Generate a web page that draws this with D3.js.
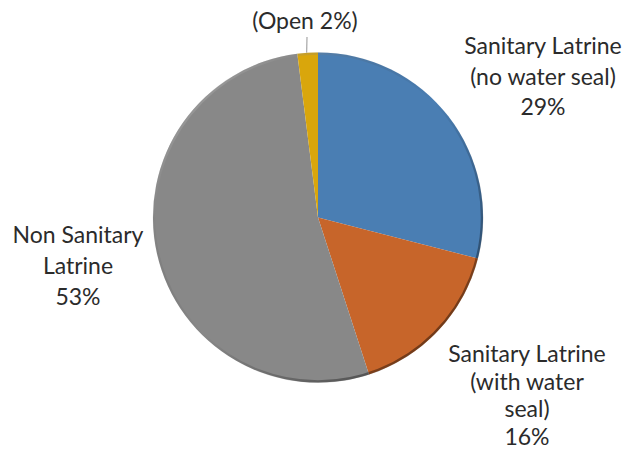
<!DOCTYPE html>
<html>
<head>
<meta charset="utf-8">
<script src="https://cdn.jsdelivr.net/npm/d3@7"></script>
<style>
  body { margin: 0; background: #fff; }
  text { font-family: Lato, "Open Sans", sans-serif; fill: #2b2b2b; }
</style>
</head>
<body>
<svg id="chart"></svg>
<script>
// slices, clockwise from 12 o'clock
const categories = ["Sanitary Latrine (no water seal)", "Sanitary Latrine (with water seal)", "Non Sanitary Latrine", "Open"];
const values = [29, 16, 53, 2];
const colors = ["#4a7eb3", "#c7652a", "#888888", "#d9a60c"];
const labelLines = [
    ["Sanitary Latrine", "(no water seal)", "29%"],
    ["Sanitary Latrine", "(with water", "seal)", "16%"],
    ["Non Sanitary", "Latrine", "53%"],
    ["(Open 2%)"]
];

const width = 626, height = 449;
const cx = 318, cy = 217.5, r = 165;

const svg = d3.select("#chart")
    .attr("width", width)
    .attr("height", height);

const defs = svg.append("defs");
const rim = defs.append("linearGradient")
    .attr("id", "rim")
    .attr("x1", "0%").attr("y1", "0%")
    .attr("x2", "100%").attr("y2", "100%");
rim.append("stop").attr("offset", "0%").attr("stop-color", "#ffffff").attr("stop-opacity", 0.45);
rim.append("stop").attr("offset", "50%").attr("stop-color", "#000000").attr("stop-opacity", 0.0);
rim.append("stop").attr("offset", "100%").attr("stop-color", "#000000").attr("stop-opacity", 0.6);

const pie = d3.pie().sort(null).value(d => d)(values);
const arc = d3.arc().innerRadius(0).outerRadius(r);

const g = svg.append("g").attr("transform", `translate(${cx},${cy})`);

g.selectAll("path.slice")
    .data(pie)
    .join("path")
    .attr("class", "slice")
    .attr("d", arc)
    .attr("fill", (d, i) => colors[i]);

// soft bevel round the edge
g.append("circle")
    .attr("r", r - 1)
    .attr("fill", "none")
    .attr("stroke", "url(#rim)")
    .attr("stroke-width", 2.5);

// label anchors (centre x, first baseline)
const labelPos = [
    {x: 543, y: 54, dy: 30.5},
    {x: 527, y: 362, dy: 27.5},
    {x: 78, y: 243, dy: 31},
    {x: 305, y: 29, dy: 30}
];

labelLines.forEach((lines, i) => {
    const p = labelPos[i];
    const t = svg.append("text")
        .attr("text-anchor", "middle")
        .style("font-size", "23px");
    lines.forEach((s, j) => {
        t.append("tspan")
            .attr("x", p.x)
            .attr("y", p.y + j * p.dy)
            .text(s);
    });
});

// leader for the small slice
const openMid = (pie[3].startAngle + pie[3].endAngle) / 2;
svg.append("line")
    .attr("x1", 307).attr("y1", 37)
    .attr("x2", cx + r * Math.sin(openMid) - 1).attr("y2", cy - r * Math.cos(openMid))
    .attr("stroke", "#a6a6a6")
    .attr("stroke-width", 1.2);
</script>
</body>
</html>
